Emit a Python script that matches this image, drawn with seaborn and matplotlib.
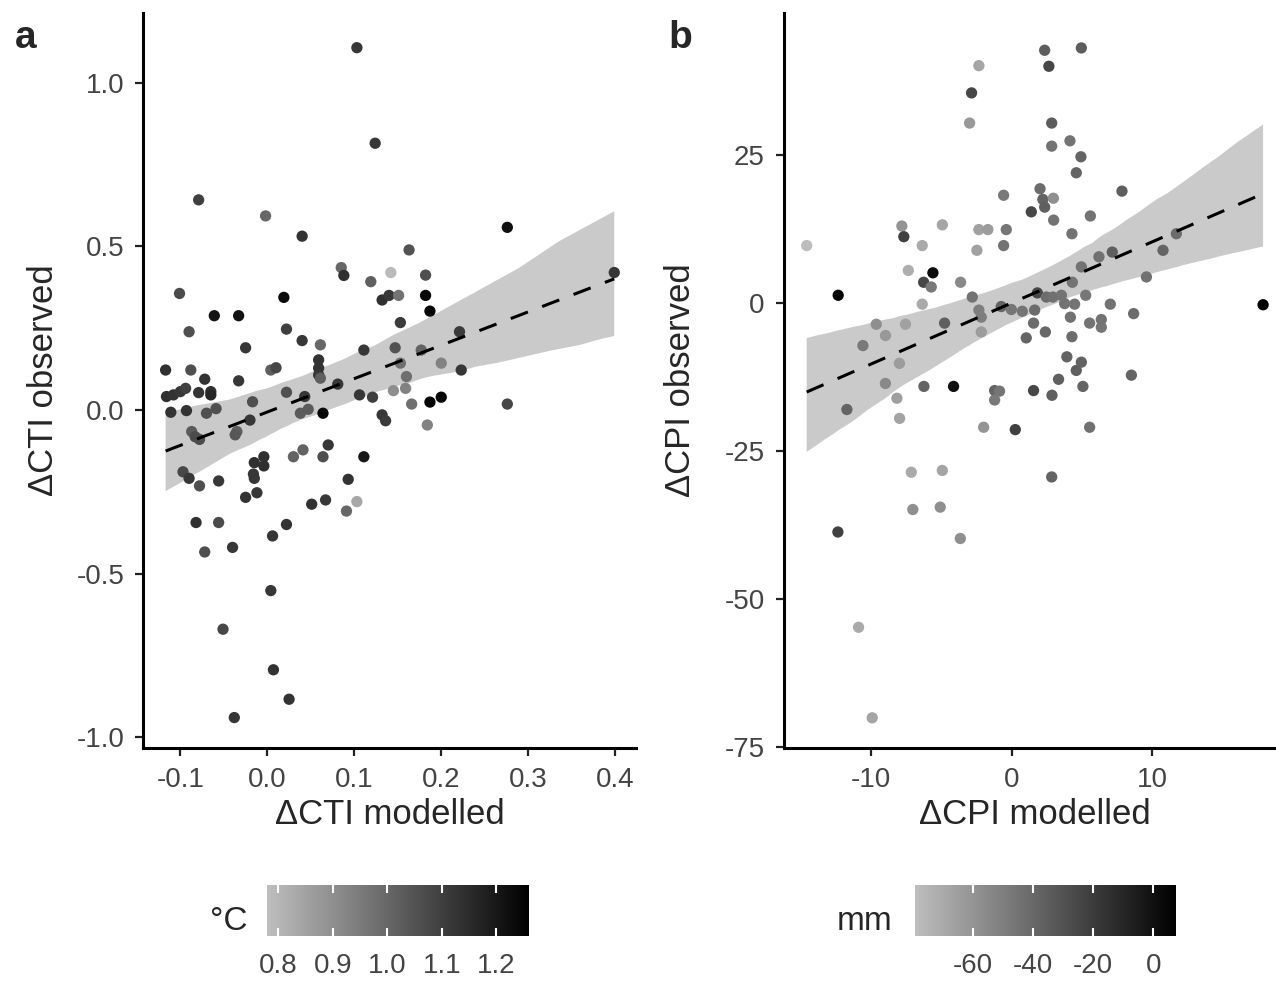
import matplotlib
matplotlib.use("Agg")
import matplotlib.pyplot as plt
import seaborn as sns
from matplotlib.cm import ScalarMappable
from matplotlib.collections import PolyCollection
from matplotlib.colors import LinearSegmentedColormap, Normalize

# panel a: community temperature index
cti_modelled = [
    0.103, 0.124, -0.079, -0.002, 0.040, 0.276, 0.163, 0.085, 0.088, 0.142,
    0.119, 0.182, 0.399, -0.101, 0.019, 0.132, 0.140, 0.151, 0.182, 0.187,
    -0.061, -0.033, -0.090, 0.022, 0.153, 0.221, -0.025, 0.040, 0.061, 0.111,
    0.147, 0.177, -0.117, -0.088, 0.004, 0.010, 0.059, 0.059, 0.059, 0.061,
    0.153, 0.200, 0.223, 0.160, -0.033, -0.072, -0.116, -0.108, -0.100, -0.094,
    -0.079, -0.065, -0.065, -0.111, -0.093, -0.070, -0.059, 0.022, -0.017, 0.043,
    0.038, 0.047, 0.064, 0.081, 0.106, 0.121, 0.145, 0.159, 0.166, 0.187,
    0.200, 0.276, 0.132, 0.136, 0.184, -0.020, -0.035, -0.037, -0.087, -0.083,
    -0.078, -0.097, -0.090, -0.078, -0.056, -0.015, -0.004, -0.004, -0.016, -0.015,
    0.030, 0.041, 0.064, 0.070, 0.111, 0.093, -0.025, -0.012, 0.051, 0.067,
    0.091, 0.103, -0.082, -0.056, 0.022, 0.006, -0.072, -0.040, 0.004, -0.051,
    0.007, 0.025, -0.038,
]
cti_observed = [
    1.107, 0.815, 0.642, 0.593, 0.531, 0.558, 0.489, 0.435, 0.411, 0.420,
    0.392, 0.412, 0.420, 0.356, 0.344, 0.336, 0.350, 0.350, 0.350, 0.302,
    0.288, 0.288, 0.239, 0.247, 0.267, 0.239, 0.190, 0.212, 0.199, 0.183,
    0.190, 0.183, 0.122, 0.122, 0.122, 0.129, 0.153, 0.128, 0.107, 0.097,
    0.143, 0.143, 0.122, 0.102, 0.089, 0.094, 0.041, 0.046, 0.056, 0.066,
    0.053, 0.056, 0.046, -0.007, -0.002, -0.010, 0.004, 0.054, 0.025, 0.041,
    -0.010, 0.002, -0.010, 0.079, 0.046, 0.039, 0.059, 0.066, 0.018, 0.024,
    0.039, 0.018, -0.015, -0.033, -0.046, -0.031, -0.066, -0.076, -0.066, -0.082,
    -0.090, -0.189, -0.209, -0.232, -0.217, -0.161, -0.143, -0.171, -0.196, -0.209,
    -0.143, -0.122, -0.143, -0.107, -0.143, -0.212, -0.267, -0.253, -0.288, -0.275,
    -0.309, -0.280, -0.344, -0.344, -0.350, -0.385, -0.434, -0.420, -0.552, -0.670,
    -0.794, -0.884, -0.940,
]
cti_temp = [
    1.12, 1.12, 1.10, 1.00, 1.13, 1.22, 1.05, 1.00, 1.14, 0.79,
    1.02, 1.06, 1.12, 1.07, 1.23, 1.14, 1.12, 0.97, 1.24, 1.24,
    1.21, 1.21, 1.06, 1.10, 1.11, 1.11, 1.12, 1.12, 1.00, 1.12,
    1.05, 1.01, 1.14, 1.06, 1.02, 1.08, 1.13, 1.13, 1.12, 1.02,
    0.98, 0.93, 1.12, 0.98, 1.12, 1.13, 1.14, 1.13, 1.12, 1.10,
    1.13, 1.14, 1.16, 1.13, 1.13, 1.06, 1.06, 1.06, 1.06, 1.12,
    1.03, 1.03, 1.24, 1.12, 1.12, 1.10, 0.90, 0.93, 0.98, 1.25,
    1.24, 1.08, 1.12, 1.11, 0.93, 1.12, 1.02, 1.04, 1.03, 1.07,
    1.07, 1.08, 1.12, 1.06, 1.12, 1.14, 1.14, 1.14, 1.12, 1.12,
    1.01, 1.01, 1.06, 1.12, 1.20, 1.13, 1.13, 1.12, 1.13, 1.12,
    1.00, 0.84, 1.14, 1.07, 1.13, 1.12, 1.06, 1.12, 1.12, 1.08,
    1.13, 1.13, 1.12,
]

# panel b: community precipitation index
cpi_modelled = [
    2.33, 4.94, 2.63, -2.35, -2.87, -3.01, 2.83, 2.83, 4.13, 4.91,
    4.58, 7.83, 2.00, 2.20, 2.33, 2.95, -0.59, 1.38, 2.97, 5.58,
    4.27, 11.70, -7.83, -7.69, -4.95, -2.35, -1.71, -0.40, -0.59, -2.49,
    -14.60, -6.38, 6.19, 7.14, 10.75, -7.37, -5.62, -6.28, -5.74, -3.65,
    -12.36, -6.38, -2.82, 4.94, 4.30, 9.57, 1.81, 2.45, 2.92, 3.52,
    3.75, 5.25, 4.46, 7.00, -0.76, -0.04, 0.74, 1.62, 17.87, -2.35,
    -2.18, 8.66, 4.16, 1.54, 5.53, 6.36, 6.36, -9.65, -7.57, -4.79,
    -8.99, -2.18, 1.02, 2.38, 4.27, -10.60, -8.00, -9.00, -11.74, -8.18,
    -7.99, -6.26, -4.15, -1.23, -0.88, -1.23, 1.54, 2.85, 3.32, 3.91,
    4.58, 4.94, 5.05, 8.50, -2.01, 0.24, 5.53, -7.16, -4.95, 2.83,
    -7.05, -5.10, -12.38, -3.67, -10.91, -9.94,
]
cpi_observed = [
    42.7, 43.1, 40.0, 40.1, 35.5, 30.4, 30.4, 26.5, 27.4, 24.7,
    22.0, 18.9, 19.3, 17.5, 16.2, 17.7, 18.2, 15.4, 14.0, 14.7,
    11.7, 11.7, 13.0, 11.2, 13.2, 12.4, 12.4, 12.4, 9.7, 8.9,
    9.7, 9.7, 7.8, 8.6, 8.9, 5.5, 5.1, 3.5, 2.7, 3.5,
    1.3, -0.2, 1.0, 6.1, 3.5, 4.4, 1.7, 1.0, 1.0, 1.3,
    -0.1, 1.3, -0.2, -0.2, -0.6, -1.1, -1.4, -1.2, -0.3, -1.2,
    -2.4, -1.8, -2.4, -3.4, -3.4, -2.8, -4.1, -3.6, -3.6, -3.4,
    -5.5, -4.9, -5.9, -4.9, -5.7, -7.2, -10.2, -13.6, -18.0, -16.1,
    -19.5, -14.1, -14.1, -14.8, -14.9, -16.4, -14.8, -15.6, -12.9, -9.1,
    -11.4, -10.0, -14.1, -12.2, -21.0, -21.4, -21.0, -28.6, -28.3, -29.4,
    -34.9, -34.5, -38.7, -39.8, -54.8, -70.1,
]
cpi_precip = [
    -35, -35, -25, -68, -25, -62, -35, -45, -45, -38,
    -38, -36, -42, -38, -36, -58, -48, -25, -45, -45,
    -45, -42, -60, -22, -68, -66, -64, -47, -45, -66,
    -79, -70, -44, -36, -38, -72, 2, -25, -48, -55,
    5, -70, -45, -45, -45, -44, -25, -42, -44, -45,
    -45, -47, -45, -45, -38, -46, -46, -42, 7.5, -50,
    -50, -42, -44, -42, -45, -45, -46, -58, -66, -36,
    -62, -64, -38, -40, -42, -48, -64, -55, -38, -65,
    -67, -38, 0, -38, -46, -48, -25, -36, -36, -38,
    -36, -38, -38, -38, -60, -22, -44, -70, -68, -38,
    -58, -58, -22, -58, -70, -68,
]

cti_xticks = [-0.1, 0.0, 0.1, 0.2, 0.3, 0.4]
cti_xlabels = ["-0.1", "0.0", "0.1", "0.2", "0.3", "0.4"]
cti_yticks = [-1.0, -0.5, 0.0, 0.5, 1.0]
cti_ylabels = ["-1.0", "-0.5", "0.0", "0.5", "1.0"]
cpi_xticks = [-10, 0, 10]
cpi_yticks = [-75, -50, -25, 0, 25]
temp_ticks = [0.8, 0.9, 1.0, 1.1, 1.2]
temp_labels = ["0.8", "0.9", "1.0", "1.1", "1.2"]
precip_ticks = [-60, -40, -20, 0]

sns.set_style("ticks")
plt.rcParams["font.family"] = ["Liberation Sans", "DejaVu Sans"]
plt.rcParams["axes.unicode_minus"] = False

W, H = 1276, 991
grey_cmap = LinearSegmentedColormap.from_list("grey_black", ["#BEBEBE", "#000000"])
temp_norm = Normalize(0.78, 1.26)
precip_norm = Normalize(-79.4, 7.5)

fig = plt.figure(figsize=(W / 100, H / 100), dpi=100)
ax_a = fig.add_axes([143 / W, 1 - 748 / H, 493 / W, 735 / H])
ax_b = fig.add_axes([783.5 / W, 1 - 748 / H, 502.5 / W, 735 / H])


def draw_panel(ax, x, y, c, norm, ci):
    sns.regplot(x=x, y=y, ax=ax, scatter=False, ci=ci, n_boot=1000, seed=3,
                color="black", line_kws=dict(lw=2.2, dashes=(6, 5), zorder=4))
    for coll in ax.collections:
        if isinstance(coll, PolyCollection):
            coll.set_facecolor("#CACACA")
            coll.set_alpha(1)
            coll.set_edgecolor("none")
            coll.set_zorder(1)
    sns.scatterplot(x=x, y=y, hue=c, palette=grey_cmap, hue_norm=norm,
                    legend=False, s=66, linewidth=0, ax=ax, zorder=3)
    sns.despine(ax=ax)
    for side in ("left", "bottom"):
        ax.spines[side].set_linewidth(2.2)
        ax.spines[side].set_color("black")
    ax.tick_params(length=5.5, width=1.6, color="#222222", labelsize=20,
                   labelcolor="#444444")
    ax.tick_params(axis="x", pad=8)
    ax.tick_params(axis="y", pad=8)


draw_panel(ax_a, cti_modelled, cti_observed, cti_temp, temp_norm, 99)
ax_a.set_xlim(-0.143, 0.424)
ax_a.set_ylim(-1.033, 1.213)
ax_a.set_xticks(cti_xticks, cti_xlabels)
ax_a.set_yticks(cti_yticks, cti_ylabels)
ax_a.set_xlabel("ΔCTI modelled", fontsize=25, labelpad=4)
ax_a.set_ylabel("ΔCTI observed", fontsize=25, labelpad=12)

draw_panel(ax_b, cpi_modelled, cpi_observed, cpi_precip, precip_norm, 95)
ax_b.set_xlim(-16.25, 19.5)
ax_b.set_ylim(-75.2, 49.0)
ax_b.set_xticks(cpi_xticks, [str(t) for t in cpi_xticks])
ax_b.set_yticks(cpi_yticks, [str(t) for t in cpi_yticks])
ax_b.set_xlabel("ΔCPI modelled", fontsize=25, labelpad=4)
ax_b.set_ylabel("ΔCPI observed", fontsize=25, labelpad=20)

fig.text(15 / W, 1 - 48 / H, "a", fontsize=28, fontweight="bold", va="baseline")
fig.text(668 / W, 1 - 48 / H, "b", fontsize=28, fontweight="bold", va="baseline")

# colour bars underneath each panel
bars = [
    (267.3, 261.7, temp_norm, temp_ticks, temp_labels, "°C", 248),
    (915.0, 260.7, precip_norm, precip_ticks, [str(t) for t in precip_ticks], "mm", 892),
]
for left, width, norm, ticks, labels, title, title_x in bars:
    cax = fig.add_axes([left / W, 1 - 936 / H, width / W, 51 / H])
    cb = fig.colorbar(ScalarMappable(norm=norm, cmap=grey_cmap), cax=cax,
                      orientation="horizontal", ticks=ticks)
    cb.outline.set_visible(False)
    cax.set_axisbelow(False)
    cax.set_xticks(ticks, labels)
    cax.tick_params(axis="x", direction="in", length=6, width=1.5, color="white",
                    top=True, bottom=True, labeltop=False, labelbottom=True,
                    labelsize=20, labelcolor="#444444", pad=12)
    fig.text(title_x / W, 1 - 930 / H, title, fontsize=24, ha="right", va="baseline")

fig.savefig("out.png", dpi=100)
